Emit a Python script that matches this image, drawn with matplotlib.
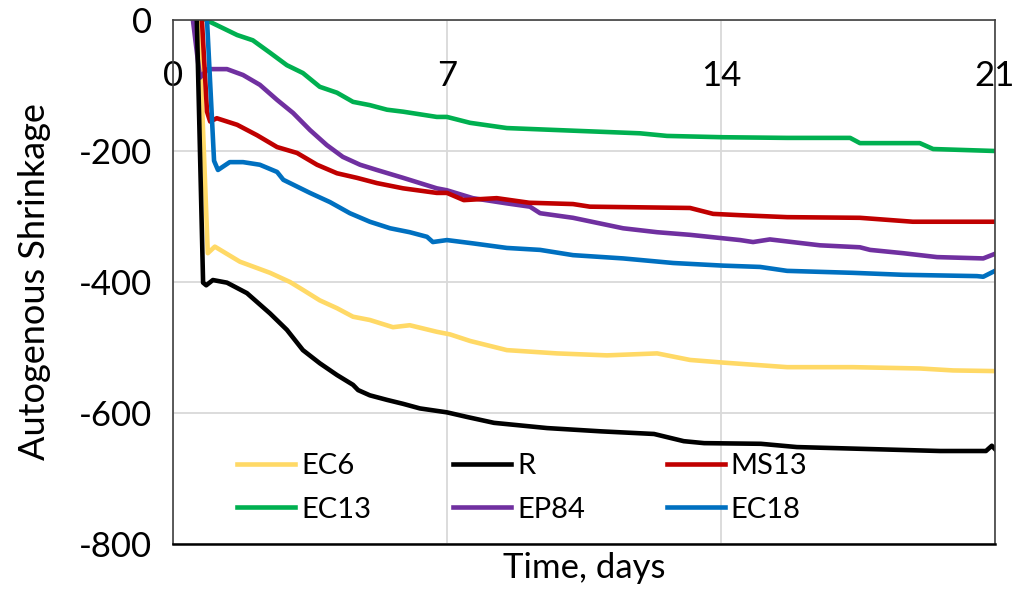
import matplotlib.pyplot as plt

plt.rcParams['font.family'] = ['Lato', 'DejaVu Sans']
plt.rcParams['axes.unicode_minus'] = False

# Time (days) and autogenous shrinkage
ec6_t = [0.66, 0.89, 1.07, 1.71, 2.48, 2.99, 3.32, 3.75, 4.19, 4.60, 5.03, 5.62, 6.05, 6.74, 7.08,
         7.59, 8.53, 9.81, 11.09, 12.37, 13.21, 14.05, 15.69, 17.37, 19.08, 19.93, 21.0]
ec6_y = [0, -356, -346, -369, -386, -400, -412, -428, -440, -453, -458, -469, -466, -476, -480,
         -490, -504, -509, -512, -509, -519, -523, -530, -530, -532, -535, -536]

r_t = [0.61, 0.77, 0.85, 1.02, 1.38, 1.89, 2.48, 2.91, 3.32, 3.75, 4.19, 4.60, 4.73, 5.03, 5.47,
       5.88, 6.31, 7.0, 7.51, 8.2, 9.56, 10.94, 12.29, 13.05, 13.57, 15.02, 15.94, 17.78, 19.6,
       20.77, 20.92, 21.0]
r_y = [0, -401, -405, -397, -401, -417, -448, -473, -504, -524, -542, -557, -565, -573, -580,
       -586, -593, -599, -606, -615, -623, -628, -632, -643, -646, -647, -652, -655, -658,
       -658, -650, -655]

ms13_t = [0.74, 0.87, 0.95, 1.12, 1.64, 2.15, 2.66, 3.17, 3.68, 4.19, 4.70, 5.21, 5.88, 6.74, 7.0,
          7.43, 8.27, 9.1, 10.22, 10.65, 13.21, 13.8, 14.49, 15.69, 17.55, 18.9, 21.0]
ms13_y = [0, -140, -155, -150, -160, -176, -194, -203, -221, -234, -241, -249, -257, -264, -264,
          -275, -272, -279, -281, -285, -287, -296, -298, -301, -302, -308, -308]

ec13_t = [0.85, 1.02, 1.64, 2.04, 2.48, 2.91, 3.32, 3.75, 4.19, 4.60, 5.03, 5.47, 5.88, 6.74, 7.0,
          7.59, 8.53, 10.22, 11.93, 12.62, 14.05, 15.69, 17.3, 17.55, 19.08, 19.42, 21.0]
ec13_y = [0, -5, -23, -31, -50, -69, -81, -102, -111, -125, -130, -137, -140, -148, -148,
          -157, -165, -169, -173, -177, -179, -180, -180, -188, -188, -197, -200]

ep84_t = [0.51, 0.69, 0.89, 1.38, 1.79, 2.22, 2.66, 3.07, 3.50, 3.93, 4.34, 4.78, 5.21, 5.88, 6.74,
          7.0, 7.66, 8.53, 9.12, 9.38, 10.22, 11.5, 12.37, 13.21, 14.49, 14.82, 15.25, 16.53,
          17.55, 17.81, 18.65, 19.52, 20.7, 21.0]
ep84_y = [0, -88, -75, -75, -84, -99, -122, -142, -168, -191, -209, -221, -229, -241, -257,
          -260, -272, -280, -285, -295, -302, -318, -324, -328, -336, -339, -335, -344,
          -347, -351, -356, -362, -364, -357]

ec18_t = [0.87, 1.05, 1.15, 1.45, 1.79, 2.22, 2.66, 2.82, 3.50, 4.01, 4.52, 5.03, 5.55, 6.05, 6.49,
          6.64, 7.0, 7.66, 8.53, 9.38, 10.22, 11.5, 12.78, 14.05, 15.0, 15.69, 17.37, 18.65,
          20.54, 20.7, 21.0]
ec18_y = [0, -215, -229, -217, -217, -221, -232, -244, -264, -278, -295, -308, -318, -324, -331,
          -339, -336, -341, -348, -351, -359, -364, -371, -375, -377, -383, -386, -389,
          -391, -392, -383]

fig = plt.figure(figsize=(10.21, 6), dpi=100)
ax = fig.add_axes([0.1694, 0.0933, 0.8051, 0.8734])

lw = 3.3
l_ec6, = ax.plot(ec6_t, ec6_y, color='#FFD966', lw=lw, label='EC6')
l_ec13, = ax.plot(ec13_t, ec13_y, color='#00B050', lw=lw, label='EC13')
l_ep84, = ax.plot(ep84_t, ep84_y, color='#7030A0', lw=lw, label='EP84')
l_ms13, = ax.plot(ms13_t, ms13_y, color='#C00000', lw=lw, label='MS13')
l_ec18, = ax.plot(ec18_t, ec18_y, color='#0070C0', lw=lw, label='EC18')
l_r, = ax.plot(r_t, r_y, color='black', lw=lw, label='R')

ax.set_xlim(0, 21)
ax.set_ylim(-800, 0)
ax.set_xticks([0, 7, 14, 21])
ax.set_yticks([0, -200, -400, -600, -800])
ax.grid(True, color='#d9d9d9', lw=1.3)
ax.set_axisbelow(True)

# x labels sit just under the top edge, inside the plot
ax.tick_params(axis='x', top=True, labeltop=True, bottom=False, labelbottom=False,
               length=0, pad=-52, labelsize=25)
ax.tick_params(axis='y', length=0, pad=15, labelsize=25)

for side in ['top', 'left', 'right']:
    ax.spines[side].set_color('#404040')
    ax.spines[side].set_linewidth(1.2)
ax.spines['bottom'].set_color('black')
ax.spines['bottom'].set_linewidth(1.8)

ax.set_xlabel('Time, days', fontsize=25, labelpad=6)
ax.set_ylabel('Autogenous Shrinkage', fontsize=26)
ax.yaxis.set_label_coords(-0.148, 0.5)

handles = [l_ec6, l_ec13, l_r, l_ep84, l_ms13, l_ec18]
ax.legend(handles=handles, labels=[h.get_label() for h in handles], ncol=3,
          loc='center', bbox_to_anchor=(0.425, 0.107), frameon=False, fontsize=21,
          handlelength=2.0, handletextpad=0.2, columnspacing=2.8, labelspacing=0.6,
          borderpad=0)

fig.savefig('out.png', dpi=100)
